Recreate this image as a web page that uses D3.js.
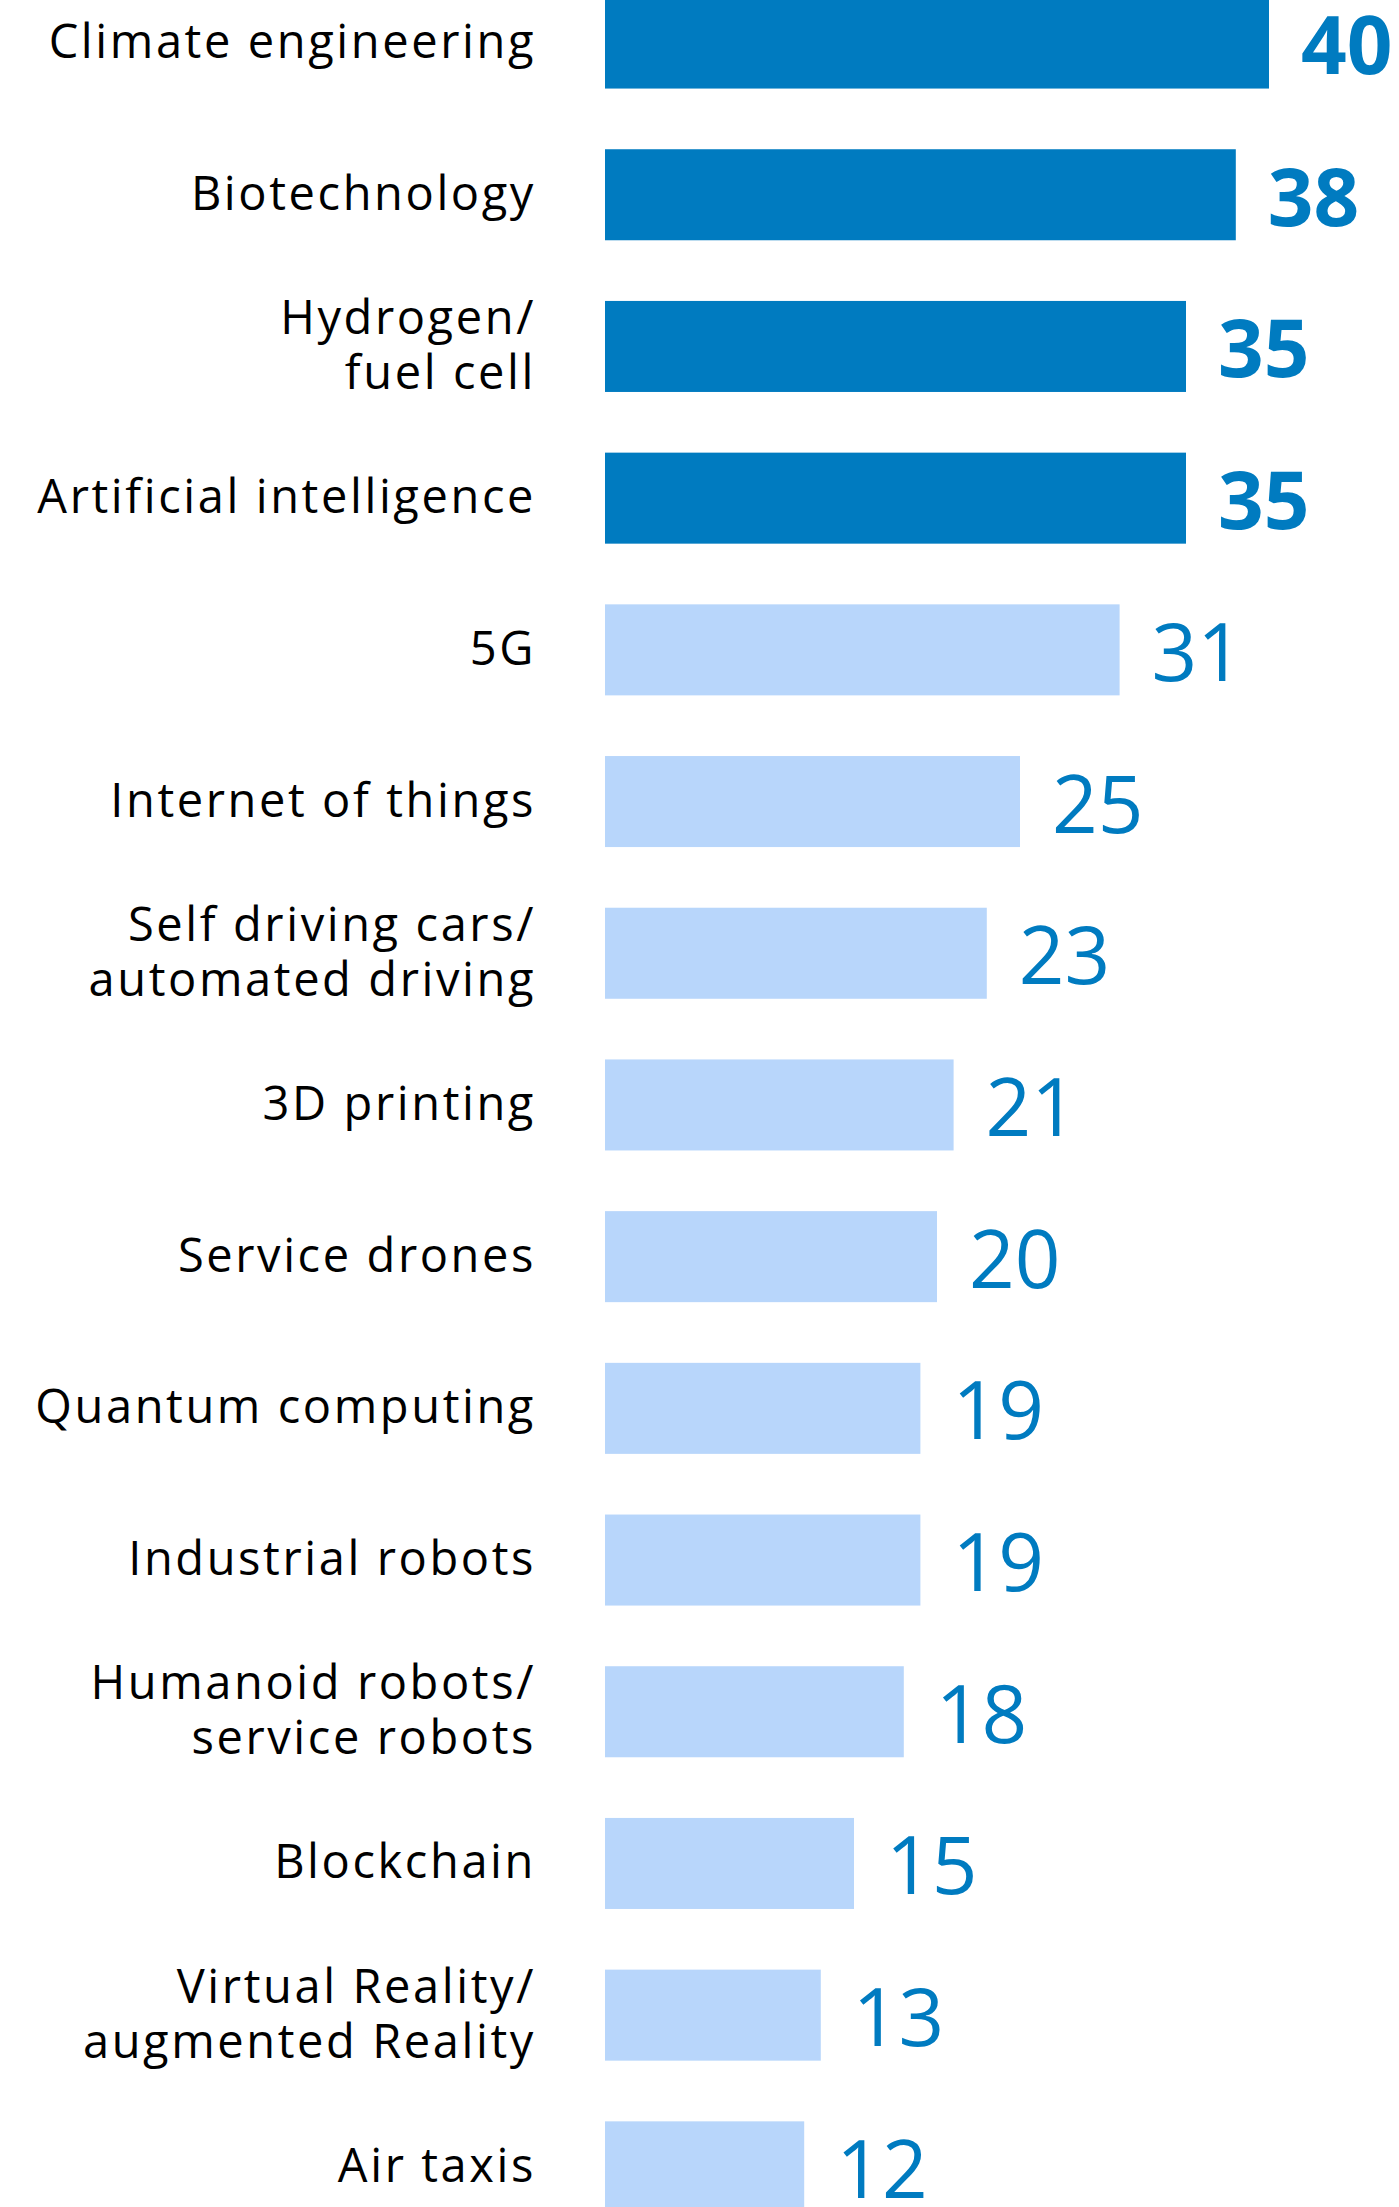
<!DOCTYPE html>
<html>
<head>
<meta charset="utf-8">
<script src="https://cdn.jsdelivr.net/npm/d3@7"></script>
<style>
  html, body { margin: 0; padding: 0; background: #fff; overflow: hidden; }
  svg { display: block; }
</style>
</head>
<body>
<script>
// Share of respondents naming each technology (%)
const categories = [
  "Climate engineering",
  "Biotechnology",
  "Hydrogen/\nfuel cell",
  "Artificial intelligence",
  "5G",
  "Internet of things",
  "Self driving cars/\nautomated driving",
  "3D printing",
  "Service drones",
  "Quantum computing",
  "Industrial robots",
  "Humanoid robots/\nservice robots",
  "Blockchain",
  "Virtual Reality/\naugmented Reality",
  "Air taxis"
];
const values = [40, 38, 35, 35, 31, 25, 23, 21, 20, 19, 19, 18, 15, 13, 12];
// The leading group is drawn in the strong blue with bold figures
const highlighted = ["Climate engineering", "Biotechnology", "Hydrogen/\nfuel cell", "Artificial intelligence"];

const W = 1399, H = 2207;
const strongBlue = "#007BC0";
const lightBlue = "#B8D6FB";

const svg = d3.select("body").append("svg")
  .attr("width", W).attr("height", H);

const x = d3.scaleLinear().domain([0, 40]).range([605, 1269]);
const y = d3.scaleBand()
  .domain(categories)
  .range([-32.8, 2242.7])
  .paddingInner(0.4)
  .paddingOuter(0.2);

const rows = categories.map((c, i) => ({ cat: c, value: values[i], hi: highlighted.includes(c) }));

const g = svg.append("g");

g.selectAll("rect.bar")
  .data(rows)
  .join("rect")
  .attr("class", "bar")
  .attr("x", x(0))
  .attr("y", d => y(d.cat))
  .attr("width", d => x(d.value) - x(0))
  .attr("height", y.bandwidth())
  .attr("fill", d => d.hi ? strongBlue : lightBlue);

// Category labels, right-aligned left of the bars
const labels = g.selectAll("text.cat")
  .data(rows)
  .join("text")
  .attr("class", "cat")
  .attr("text-anchor", "end")
  .attr("font-family", "'Open Sans', sans-serif")
  .attr("font-size", 47)
  .attr("letter-spacing", 2.6)
  .attr("fill", "#000");

const lineGap = 55;
labels.each(function(d) {
  const lines = d.cat.split("\n");
  const mid = y(d.cat) + y.bandwidth() / 2 + 15;
  const start = mid - (lines.length - 1) * lineGap / 2;
  d3.select(this).selectAll("tspan")
    .data(lines)
    .join("tspan")
    .attr("x", 536)
    .attr("y", (l, j) => start + j * lineGap)
    .text(l => l);
});

// Value labels at the end of each bar
g.selectAll("text.val")
  .data(rows)
  .join("text")
  .attr("class", "val")
  .attr("x", d => x(d.value) + 32)
  .attr("y", d => y(d.cat) + y.bandwidth() / 2 + 31)
  .attr("font-family", "'Open Sans', sans-serif")
  .attr("font-size", 80)
  .attr("font-weight", d => d.hi ? 700 : 400)
  .attr("fill", strongBlue)
  .text(d => d.value);
</script>
</body>
</html>
